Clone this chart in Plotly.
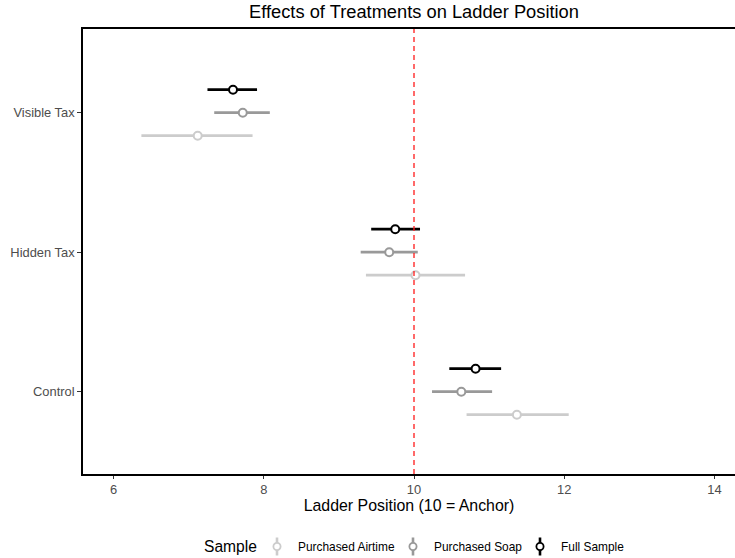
import plotly.graph_objects as go

# ---- data ----
treatments = ["Control", "Hidden Tax", "Visible Tax"]
samples = ["Purchased Airtime", "Purchased Soap", "Full Sample"]
sample_colors = ["#cccccc", "#999999", "#000000"]

airtime_est = [11.37, 10.02, 7.12]
airtime_lo = [10.70, 9.36, 6.37]
airtime_hi = [12.06, 10.68, 7.85]

soap_est = [10.63, 9.67, 7.72]
soap_lo = [10.24, 9.29, 7.34]
soap_hi = [11.04, 10.05, 8.08]

full_est = [10.82, 9.75, 7.59]
full_lo = [10.47, 9.43, 7.25]
full_hi = [11.16, 10.08, 7.91]

x_ticks = [6, 8, 10, 12, 14]
anchor = 10

# ---- figure ----
W, H = 735, 558
ML, MR, MT, MB = 83, 0, 29, 84
PX_PER_UNIT = 75.1
X_MIN = 10 - (414 - ML) / PX_PER_UNIT

series = [
    (airtime_est, airtime_lo, airtime_hi),
    (soap_est, soap_lo, soap_hi),
    (full_est, full_lo, full_hi),
]
dodge = [-0.165, 0.0, 0.165]

fig = go.Figure()
for name, color, (est, lo, hi), off in zip(samples, sample_colors, series, dodge):
    ys = [i + 1 + off for i in range(len(treatments))]
    fig.add_trace(go.Scatter(
        x=est, y=ys, mode="markers", name=name, showlegend=False,
        hoverinfo="skip",
        marker=dict(size=8, color="white", line=dict(color=color, width=2)),
        error_x=dict(type="data", symmetric=False,
                     array=[h - e for h, e in zip(hi, est)],
                     arrayminus=[e - l for e, l in zip(est, lo)],
                     color=color, thickness=2.8, width=0),
    ))

fig.add_shape(type="line", xref="x", yref="paper", x0=anchor, x1=anchor, y0=0, y1=1,
              line=dict(color="#ff1a1a", width=1.3, dash="5px,4px"), layer="above")

# ---- manual legend (ggplot style vertical keys) ----
pw = W - ML - MR
ph = H - MT - MB
def px2paper_x(px):
    return (px - ML) / pw
def py2paper_y(py):
    return (H - MB - py) / ph

leg_y = 546.5
fig.add_annotation(x=px2paper_x(202), y=py2paper_y(leg_y), xref="paper", yref="paper",
                   text="Sample", showarrow=False, xanchor="left", yanchor="middle",
                   font=dict(size=15.6, color="black"))
key_x = [277, 413, 540]
for name, color, kx in zip(samples, sample_colors, key_x):
    fig.add_shape(type="line", xref="paper", yref="paper",
                  x0=px2paper_x(kx), x1=px2paper_x(kx),
                  y0=py2paper_y(537.5), y1=py2paper_y(555.5),
                  line=dict(color=color, width=2.6))
    fig.add_shape(type="circle", xref="paper", yref="paper",
                  xsizemode="pixel", ysizemode="pixel",
                  xanchor=px2paper_x(kx), yanchor=py2paper_y(leg_y),
                  x0=-3.6, x1=3.6, y0=-3.6, y1=3.6,
                  fillcolor="white", line=dict(color=color, width=1.8))
    fig.add_annotation(x=px2paper_x(kx + 19), y=py2paper_y(leg_y), xref="paper", yref="paper",
                       text=name, showarrow=False, xanchor="left", yanchor="middle",
                       font=dict(size=11.9, color="black"))

fig.update_layout(
    width=W, height=H,
    margin=dict(l=ML, r=MR, t=MT, b=MB),
    paper_bgcolor="white", plot_bgcolor="white",
    hovermode=False,
    font=dict(family="Liberation Sans, Arial, sans-serif"),
    title=dict(text="Effects of Treatments on Ladder Position",
               x=414 / W, xref="container", xanchor="center",
               y=1 - 11.5 / H, yref="container", yanchor="middle",
               font=dict(size=18.3, color="black")),
    xaxis=dict(range=[X_MIN, X_MIN + pw / PX_PER_UNIT], tickvals=x_ticks,
               showgrid=False, zeroline=False,
               showline=True, linecolor="black", linewidth=1.6, mirror=True,
               ticks="outside", ticklen=3, tickcolor="#333333", tickwidth=1.1,
               tickfont=dict(size=12.9, color="#4d4d4d"),
               title=dict(text="Ladder Position (10 = Anchor)", standoff=1,
                          font=dict(size=15.9, color="black"))),
    yaxis=dict(range=[0.41, 3.6], tickvals=[1, 2, 3], ticktext=treatments,
               showgrid=False, zeroline=False,
               showline=True, linecolor="black", linewidth=1.6, mirror=False,
               ticks="outside", ticklen=4, tickcolor="#333333", tickwidth=1.1,
               tickfont=dict(size=12.9, color="#4d4d4d")),
)

fig.write_html("out.html", config={"displayModeBar": False},
               post_script="document.body.style.margin='0px';")
